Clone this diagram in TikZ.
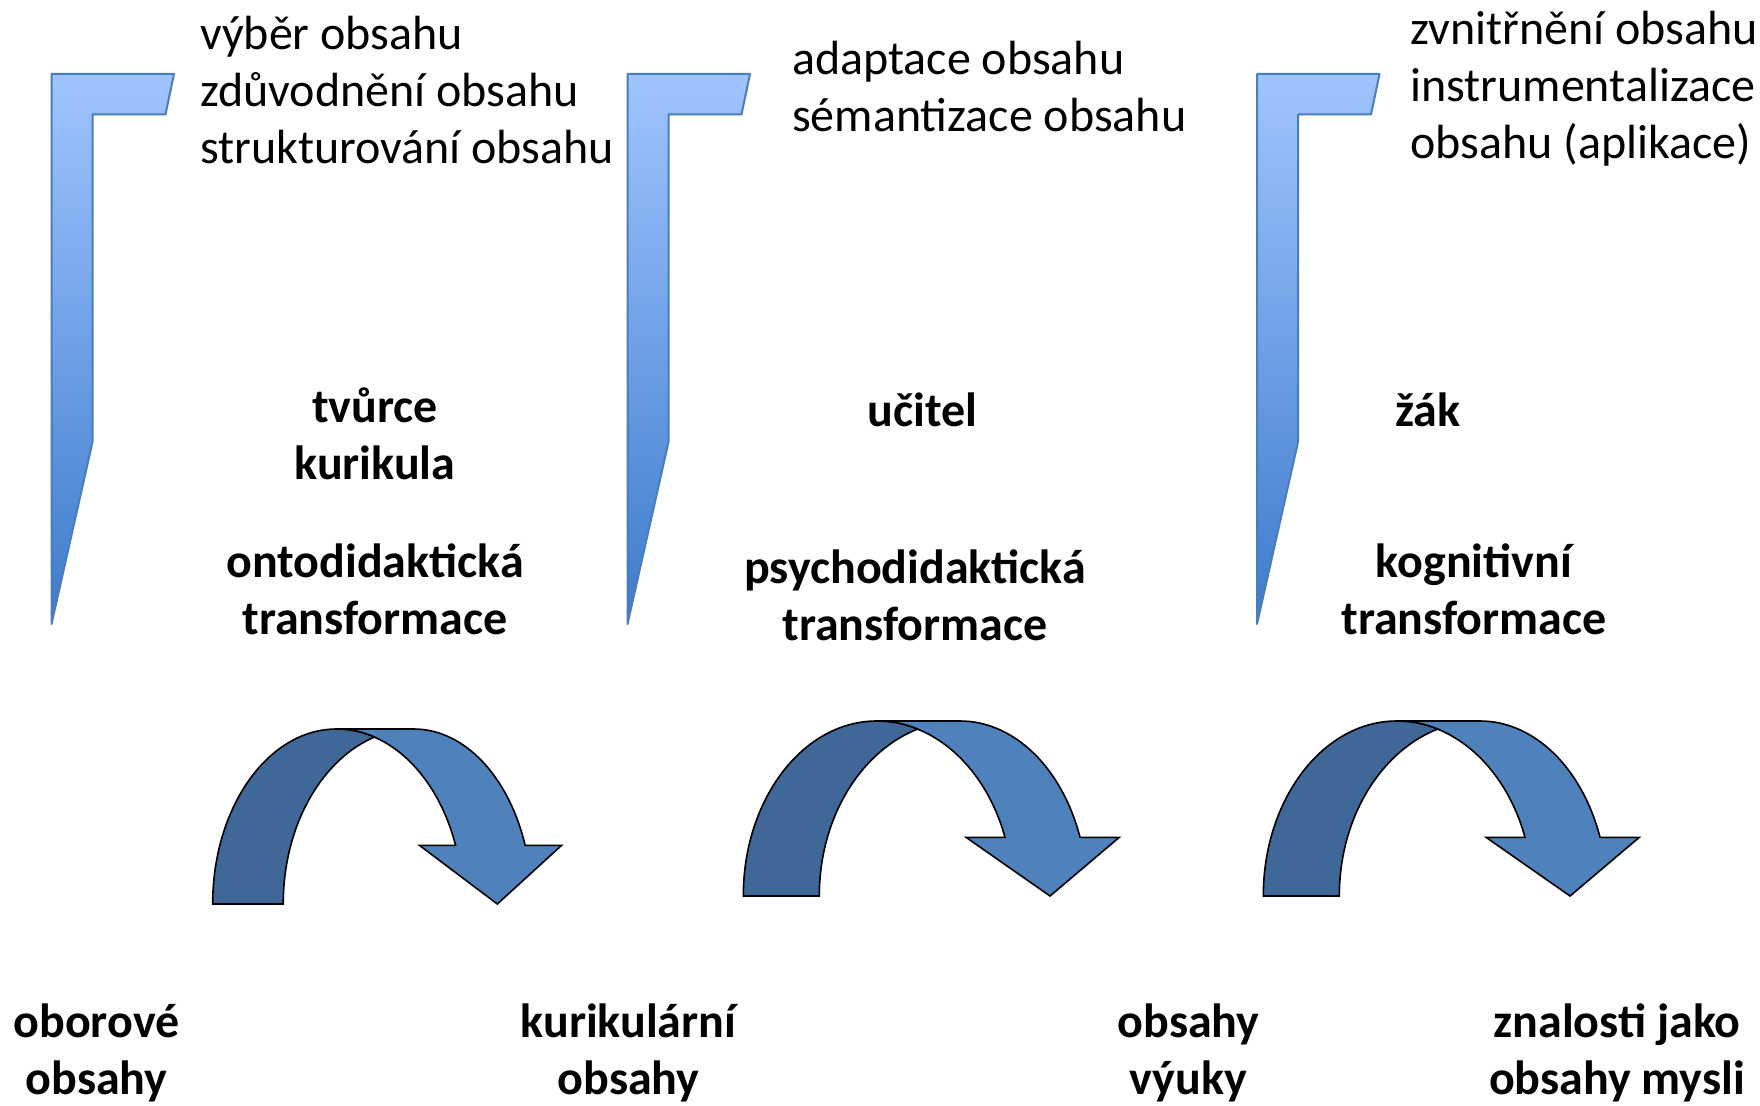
\documentclass[tikz,border=0pt]{standalone}
\usepackage{fontspec}
\setmainfont{Carlito}
\usetikzlibrary{positioning}
\definecolor{bandlight}{HTML}{4F81BD}
\definecolor{banddark}{HTML}{3F6797}
\definecolor{bracktop}{HTML}{A0C4FF}
\definecolor{brackbot}{HTML}{3C7BCB}
\definecolor{brackline}{HTML}{4A7EBB}
\begin{document}
\begin{tikzpicture}[x=1pt,y=1pt,
  txt/.style={inner sep=0pt,font=\fontsize{48}{57}\selectfont},
  boldtxt/.style={inner sep=0pt,align=center,font=\fontsize{48}{57}\selectfont\bfseries},
  bracket/.style={draw=brackline,line width=2pt,line join=round,top color=bracktop,bottom color=brackbot},
  bandfront/.style={draw=black,line width=1.6pt,fill=bandlight},
  bandback/.style={draw=black,line width=1.6pt,fill=banddark}]
\useasboundingbox (0,0) rectangle (1760,-1105);
%
% brackets
\foreach \x in {51.5,627.5,1257} {
  \draw[bracket] (\x,-74) -- (\x+122.5,-74) -- (\x+114,-114.5) -- (\x+41,-114.5)
    -- (\x+41,-442) -- (\x,-624) -- cycle;
}
%
% curved arrows
\foreach \ax/\ay/\sx in {212.7/-904/0.928, 743.3/-896/1, 1263.3/-896/1} {
  \begin{scope}[shift={(\ax,\ay)},xscale=\sx]
  \draw[bandfront] (133.4,175) -- (216.7,175)
    arc[start angle=90,end angle=19.6,x radius=127.4,y radius=175]
    -- (376,58.7) -- (306.7,0) -- (222.7,58.7) -- (261.7,58.7)
    arc[start angle=19.6,end angle=90,x radius=136.2,y radius=175] -- cycle;
  \begin{scope}
    \clip (-5,-5) -- (-5,185) -- (133.4,185) -- (133.4,175)
      arc[start angle=90,end angle=0,x radius=136.2,y radius=175] -- ++(0,-5) -- cycle;
    \draw[bandback] (0,0) arc[start angle=180,end angle=90,x radius=133.4,y radius=175]
      -- (216.7,175) arc[start angle=90,end angle=180,x radius=140.7,y radius=175] -- cycle;
  \end{scope}
  \draw[line width=1.6pt] (133.4,175) arc[start angle=90,end angle=72,x radius=136.2,y radius=175];
  \end{scope}
}
%
% top texts
\node[txt,anchor=west,align=left] (sel) at (200,-90.2) {výběr obsahu\\zdůvodnění obsahu\\strukturování obsahu};
\node[txt,anchor=west,align=left] (adp) at (792,-86.4) {adaptace obsahu\\sémantizace obsahu};
\node[txt,anchor=west,align=left] (int) at (1410,-88.3) {zvnitřnění obsahu\\instrumentalizace\\obsahu (aplikace)};
%
% actors
\node[boldtxt] (tvurce) at (375,-433.5) {tvůrce\\kurikula};
\node[boldtxt] (ucitel) at (922.6,-409.7) {učitel};
\node[boldtxt] (zak) at (1428,-409.7) {žák};
%
% transformations
\node[boldtxt] (onto) at (375,-589.5) {ontodidaktická\\transformace};
\node[boldtxt] (psycho) at (915,-595.5) {psychodidaktická\\transformace};
\node[boldtxt] (kogn) at (1474,-589.5) {kognitivní\\transformace};
%
% contents
\node[boldtxt] (obor) at (96.5,-1052.5) {oborové\\obsahy};
\node[boldtxt] (kurik) at (628.5,-1052.5) {kurikulární\\obsahy};
\node[boldtxt] (vyuka) at (1188.6,-1052.5) {obsahy\\výuky};
\node[boldtxt] (mysl) at (1617,-1052.5) {znalosti jako\\obsahy mysli};
\end{tikzpicture}
\end{document}
